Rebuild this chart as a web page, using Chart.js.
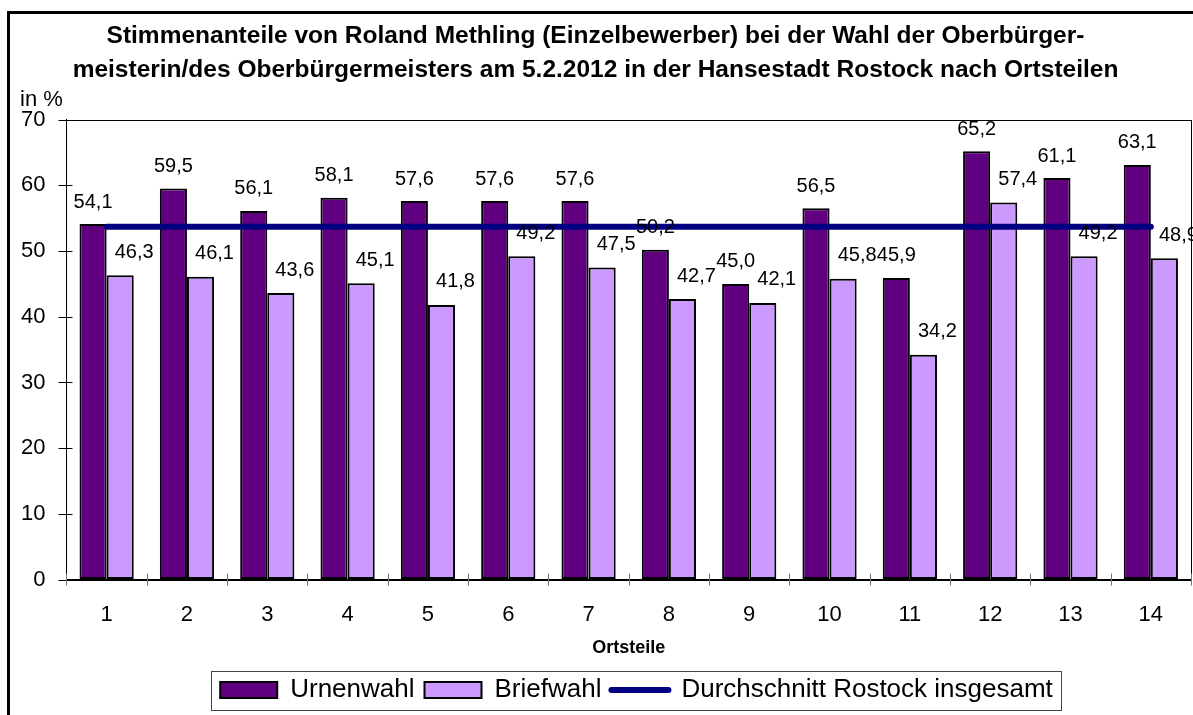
<!DOCTYPE html>
<html>
<head>
<meta charset="utf-8">
<script src="https://cdn.jsdelivr.net/npm/chart.js@4.4.0/dist/chart.umd.min.js"></script>
<style>
  html, body { margin: 0; padding: 0; background: #fff; }
  #wrap { width: 1193px; height: 715px; }
</style>
</head>
<body>
<div id="wrap"><canvas id="myChart" width="1193" height="715"></canvas></div>
<script>
const ortsteile = ['1', '2', '3', '4', '5', '6', '7', '8', '9', '10', '11', '12', '13', '14'];
const urnenwahl = [54.1, 59.5, 56.1, 58.1, 57.6, 57.6, 57.6, 50.2, 45.0, 56.5, 45.9, 65.2, 61.1, 63.1];
const briefwahl = [46.3, 46.1, 43.6, 45.1, 41.8, 49.2, 47.5, 42.7, 42.1, 45.8, 34.2, 57.4, 49.2, 48.9];
const durchschnitt = [53.7, 53.7, 53.7, 53.7, 53.7, 53.7, 53.7, 53.7, 53.7, 53.7, 53.7, 53.7, 53.7, 53.7];
const yTicks = [0, 10, 20, 30, 40, 50, 60, 70];

const titleLines = [
  'Stimmenanteile von Roland Methling (Einzelbewerber) bei der Wahl der Oberbürger-',
  'meisterin/des Oberbürgermeisters am 5.2.2012 in der Hansestadt Rostock nach Ortsteilen'
];

Chart.defaults.font.family = '"Liberation Sans", Arial, sans-serif';
Chart.defaults.color = '#000';

function fmt(v) {
  return v.toFixed(1).replace('.', ',');
}

// frame, axis box, tick marks, value labels, legend box
const extras = {
  id: 'extras',
  afterLayout(chart) {
    // legend box sits a bit right of the centre in the original
    chart.legend.left += 41;
    chart.legend.right += 41;
  },
  beforeDraw(chart) {
    const ctx = chart.ctx;
    ctx.save();
    ctx.fillStyle = '#fff';
    ctx.fillRect(0, 0, chart.width, chart.height);
    ctx.strokeStyle = '#000';
    ctx.lineWidth = 3;
    ctx.strokeRect(8.5, 12.5, 3000, 3000);
    ctx.restore();
  },
  afterDatasetsDraw(chart) {
    const ctx = chart.ctx;
    const area = chart.chartArea;
    const y = chart.scales.y;
    ctx.save();

    // plot box
    ctx.strokeStyle = '#000';
    ctx.lineWidth = 1;
    ctx.strokeRect(Math.round(area.left) + 0.5, Math.round(area.top) + 0.5,
      Math.round(area.right - area.left), Math.round(area.bottom - area.top));

    // y tick marks crossing the axis
    yTicks.forEach(v => {
      const py = Math.round(y.getPixelForValue(v)) + 0.5;
      ctx.beginPath();
      ctx.moveTo(area.left - 8, py);
      ctx.lineTo(area.left + 6, py);
      ctx.stroke();
    });

    // x tick marks at category borders
    ctx.strokeStyle = '#777';
    const step = (area.right - area.left) / ortsteile.length;
    for (let i = 0; i <= ortsteile.length; i++) {
      const px = Math.round(area.left + i * step) + 0.5;
      ctx.beginPath();
      ctx.moveTo(px, area.bottom - 6);
      ctx.lineTo(px, area.bottom + 6);
      ctx.stroke();
    }

    // value labels
    ctx.fillStyle = '#000';
    ctx.font = '20px "Liberation Sans", Arial, sans-serif';
    ctx.textAlign = 'center';
    ctx.textBaseline = 'middle';
    chart.getDatasetMeta(0).data.forEach((bar, i) => {
      ctx.fillText(fmt(urnenwahl[i]), bar.x, bar.y - 22);
    });
    chart.getDatasetMeta(1).data.forEach((bar, i) => {
      ctx.fillText(fmt(briefwahl[i]), bar.x + 14, bar.y - 23);
    });

    // "in %"
    ctx.textAlign = 'left';
    ctx.font = '22px "Liberation Sans", Arial, sans-serif';
    ctx.fillText('in %', 20, 100);
    ctx.restore();
  },
  afterDraw(chart) {
    const boxes = chart.legend.legendHitBoxes;
    if (!boxes || !boxes.length) return;
    const ctx = chart.ctx;
    const first = boxes[0];
    const last = boxes[boxes.length - 1];
    const left = first.left - 9;
    const right = last.left + last.width + 8;
    const top = first.top - 6;
    const bottom = first.top + first.height + 7;
    ctx.save();
    ctx.strokeStyle = '#444';
    ctx.lineWidth = 1;
    ctx.strokeRect(Math.round(left) + 0.5, Math.round(top) + 0.5,
      Math.round(right - left), Math.round(bottom - top));
    ctx.restore();
  }
};

const data = {
  labels: ortsteile,
  datasets: [{
    type: 'bar',
    label: 'Urnenwahl',
    data: urnenwahl,
    backgroundColor: '#600080',
    borderColor: '#000',
    borderWidth: 2,
    borderSkipped: false,
    categoryPercentage: 0.675,
    barPercentage: 1.0,
    order: 2
  }, {
    type: 'bar',
    label: 'Briefwahl',
    data: briefwahl,
    backgroundColor: '#cc99ff',
    borderColor: '#000',
    borderWidth: 2,
    borderSkipped: false,
    categoryPercentage: 0.675,
    barPercentage: 1.0,
    order: 2
  }, {
    type: 'line',
    label: 'Durchschnitt Rostock insgesamt',
    data: durchschnitt,
    borderColor: '#000080',
    backgroundColor: '#000080',
    borderWidth: 6,
    pointRadius: 0,
    borderCapStyle: 'round',
    order: 1
  }]
};

const config = {
  type: 'bar',
  data: data,
  options: {
    responsive: false,
    animation: false,
    devicePixelRatio: 1,
    layout: {
      padding: { left: 0, right: 2, top: 0, bottom: 2 }
    },
    scales: {
      x: {
        grid: { display: true, drawOnChartArea: false, drawTicks: false, color: '#000' },
        border: { display: true, color: '#000' },
        ticks: { font: { size: 22 }, padding: 22, color: '#000' },
        title: {
          display: true,
          text: 'Ortsteile',
          font: { size: 18, weight: 'bold', lineHeight: 1.0 },
          color: '#000',
          padding: { top: -11, bottom: 10 }
        }
      },
      y: {
        min: 0,
        max: 70,
        grid: { display: true, drawOnChartArea: false, drawTicks: false, color: '#000' },
        border: { display: true, color: '#000' },
        ticks: { stepSize: 10, font: { size: 22 }, padding: 21, color: '#000' }
      }
    },
    plugins: {
      title: {
        display: true,
        text: titleLines,
        font: { size: 24.5, weight: 'bold', lineHeight: 1.4 },
        color: '#000',
        padding: { top: 19, bottom: 32 }
      },
      legend: {
        position: 'bottom',
        labels: {
          usePointStyle: true,
          pointStyleWidth: 57,
          boxHeight: 16,
          padding: 10,
          color: '#000',
          font: { size: 26 },
          sort: (a, b) => a.datasetIndex - b.datasetIndex,
          generateLabels(chart) {
            const items = Chart.defaults.plugins.legend.labels.generateLabels(chart);
            items.forEach(it => {
              if (it.datasetIndex < 2) {
                it.pointStyle = 'rect';
                it.lineWidth = 2;
                it.strokeStyle = '#000';
              } else {
                it.pointStyle = 'line';
                it.lineWidth = 6;
                it.strokeStyle = '#000080';
                it.lineCap = 'round';
              }
            });
            return items;
          }
        }
      },
      tooltip: { enabled: false }
    }
  },
  plugins: [extras]
};

const myChart = new Chart(document.getElementById('myChart'), config);
</script>
</body>
</html>
